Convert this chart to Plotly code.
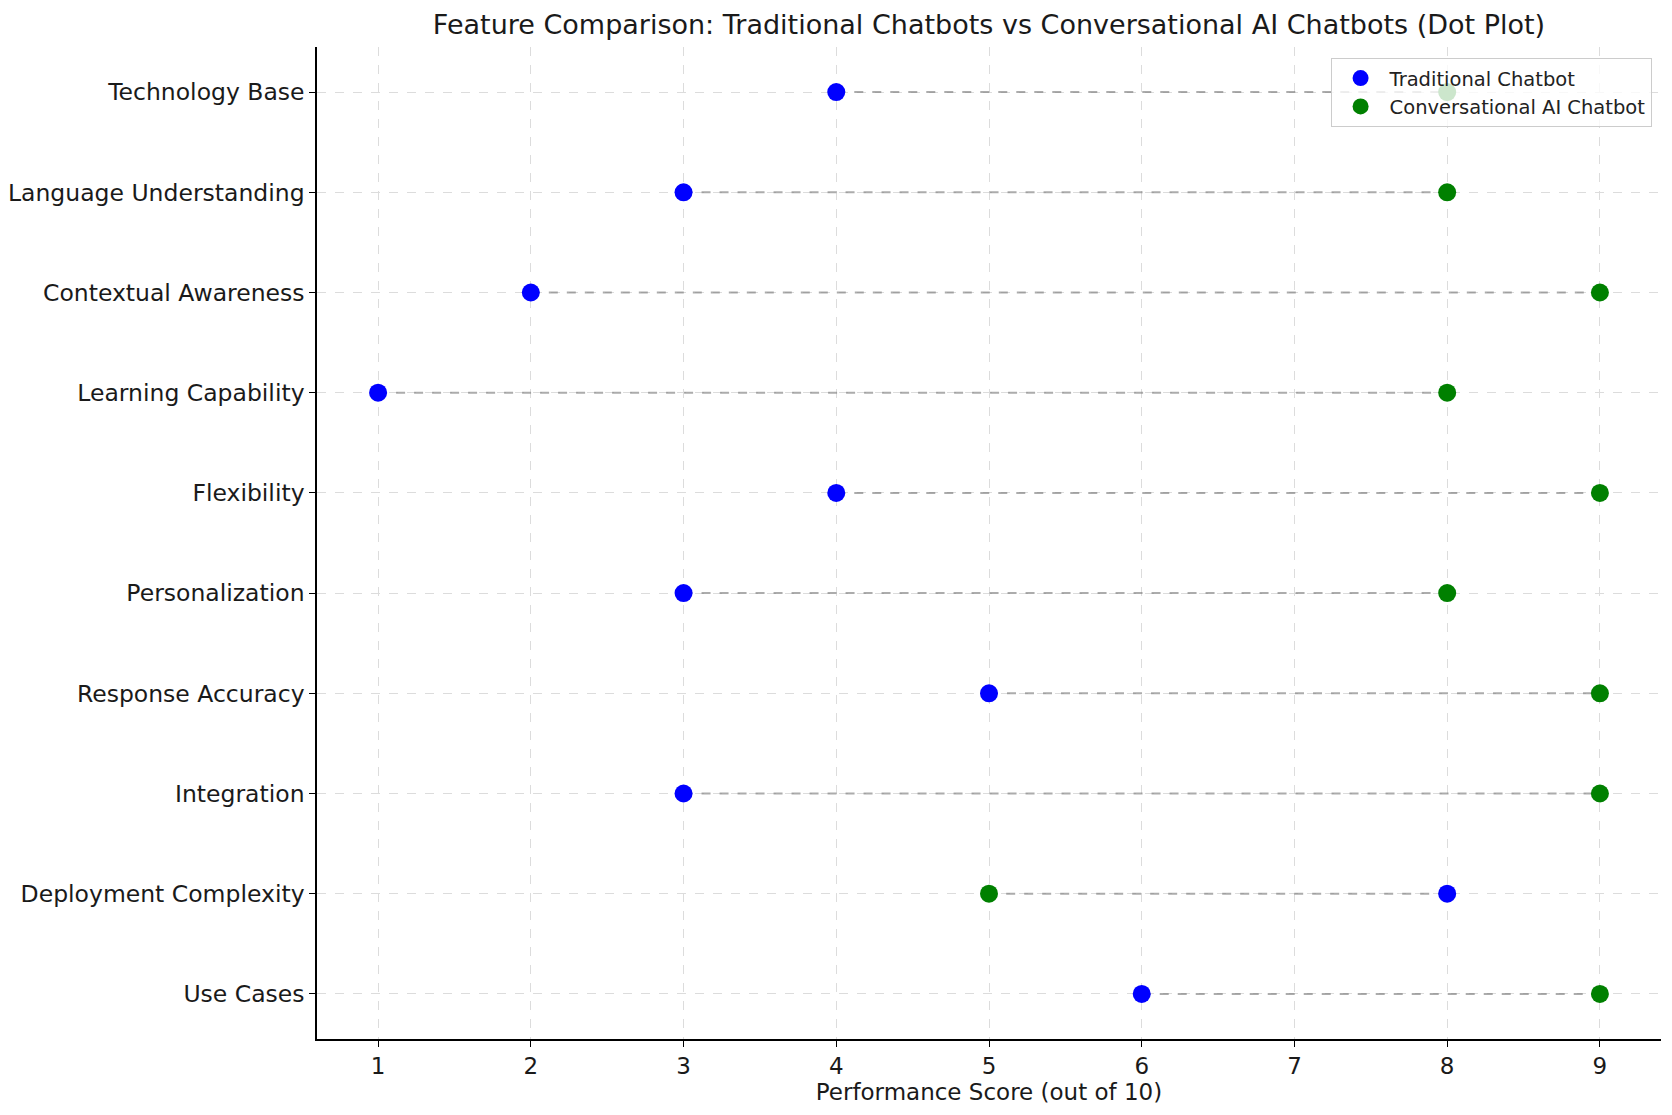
import plotly.graph_objects as go

categories = ["Technology Base", "Language Understanding", "Contextual Awareness",
              "Learning Capability", "Flexibility", "Personalization",
              "Response Accuracy", "Integration", "Deployment Complexity", "Use Cases"]
traditional = [4, 3, 2, 1, 4, 3, 5, 3, 8, 6]
conversational = [8, 8, 9, 8, 9, 8, 9, 9, 5, 9]
x_ticks = [1, 2, 3, 4, 5, 6, 7, 8, 9]

FONT = "DejaVu Sans"
L, R, T, B = 309, 19, 39, 84

lx, ly = [], []
for c, t, v in zip(categories, traditional, conversational):
    lx += [t, v, None]
    ly += [c, c, None]

fig = go.Figure()
fig.add_trace(go.Scatter(x=lx, y=ly, mode="lines", showlegend=False, hoverinfo="skip",
                         line=dict(color="rgba(128,128,128,0.65)", width=2, dash="dash")))
fig.add_trace(go.Scatter(x=traditional, y=categories, mode="markers", name="Traditional Chatbot",
                         marker=dict(color="#0000ff", size=18)))
fig.add_trace(go.Scatter(x=conversational, y=categories, mode="markers", name="Conversational AI Chatbot",
                         marker=dict(color="#008000", size=18)))

fig.update_layout(
    width=1672, height=1115,
    paper_bgcolor="white", plot_bgcolor="white",
    margin=dict(l=L, r=R, t=T, b=B),
    font=dict(family=FONT, color="#1a1a1a"),
    title=dict(text="Feature Comparison: Traditional Chatbots vs Conversational AI Chatbots (Dot Plot)",
               x=(L + 1672 - R) / 2 / 1672, xanchor="center", y=1 - 17 / 1115, yanchor="middle",
               font=dict(size=27, family=FONT, color="#1a1a1a")),
    legend=dict(x=0.993, xanchor="right", y=0.989, yanchor="top", itemsizing="trace", itemwidth=48,
                bgcolor="rgba(255,255,255,0.8)", bordercolor="#cccccc", borderwidth=1,
                font=dict(size=19.5, family=FONT, color="#222")),
)
fig.update_xaxes(range=[0.6, 9.4], tickvals=x_ticks, showline=True, linecolor="black", linewidth=1.5,
                 ticks="outside", ticklen=6, tickcolor="black", tickfont=dict(size=23),
                 showgrid=True, gridcolor="#dcdcdc", griddash="dash", gridwidth=1, zeroline=False,
                 automargin=False,
                 title=dict(text="Performance Score (out of 10)", font=dict(size=23), standoff=3))
fig.update_yaxes(categoryorder="array", categoryarray=categories, autorange=False, range=[9.45, -0.45],
                 showline=True, linecolor="black", linewidth=1.5, automargin=False,
                 ticks="outside", ticklen=6, tickcolor="black", tickfont=dict(size=23.5),
                 showgrid=True, gridcolor="#dcdcdc", griddash="dash", gridwidth=1, zeroline=False)

fig.write_html("out.html")
